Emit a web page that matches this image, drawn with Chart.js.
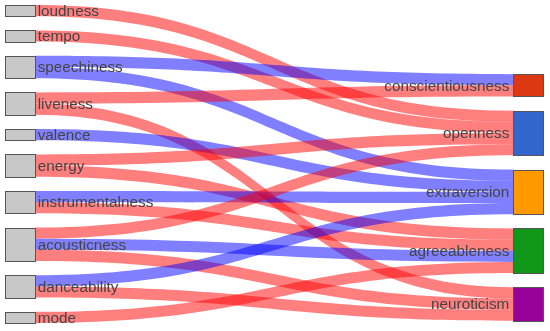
<!DOCTYPE html>
<html>
<head>
<meta charset="utf-8">
<script src="https://cdn.jsdelivr.net/npm/chart.js@4.4.1/dist/chart.umd.min.js"></script>
<style>
  html, body { margin: 0; padding: 0; background: #fff; }
  #wrap { width: 550px; height: 331px; }
</style>
</head>
<body>
<div id="wrap"><canvas id="sankey" width="550" height="331"></canvas></div>
<script>
// audio features (left column) and personality traits (right column)
const features = ["loudness", "tempo", "speechiness", "liveness", "valence",
  "energy", "instrumentalness", "acousticness", "danceability", "mode"];
const traits = ["conscientiousness", "openness", "extraversion", "agreeableness", "neuroticism"];
const traitColors = ["#dc3912", "#3366cc", "#ff9900", "#109618", "#990099"];

// one entry per flow
const linkFrom = ["loudness", "tempo", "speechiness", "speechiness", "liveness", "liveness",
  "valence", "energy", "energy", "instrumentalness", "instrumentalness",
  "acousticness", "acousticness", "acousticness", "danceability", "danceability", "mode"];
const linkTo = ["openness", "openness", "conscientiousness", "extraversion", "conscientiousness", "neuroticism",
  "extraversion", "openness", "agreeableness", "extraversion", "agreeableness",
  "openness", "agreeableness", "neuroticism", "extraversion", "neuroticism", "agreeableness"];
const linkValue = [1, 1, 1, 1, 1, 1, 1, 1, 1, 1, 1, 1, 1, 1, 1, 1, 1];
const linkSign = [1, 1, -1, -1, 1, 1, -1, 1, 1, -1, 1, 1, -1, 1, -1, 1, 1];

const GAP = 1.28;          // space between nodes, in flow units
const RIGHT_OFFSET = 6.2;  // where the trait column starts
const NODE_W = 0.0552;     // node width on the 0..1 x axis
const FONT = "15.3px 'Liberation Sans', Arial, sans-serif";

// Stacks a column of nodes, each as tall as the flows touching it.
const stack = (names, ends, offset) => {
  let y = offset;
  return names.map((name) => {
    const total = linkValue.reduce((s, v, i) => s + (ends[i] === name ? v : 0), 0);
    const node = { name, y0: y, y1: y + total };
    y += total + GAP;
    return node;
  });
};

const leftNodes = stack(features, linkFrom, 0);
const rightNodes = stack(traits, linkTo, RIGHT_OFFSET);
const yMax = leftNodes[leftNodes.length - 1].y1;

// place each flow inside its source (ordered by target) and target (ordered by source)
const links = linkValue.map((v, i) => ({
  v, sign: linkSign[i],
  s: features.indexOf(linkFrom[i]),
  t: traits.indexOf(linkTo[i]),
}));
leftNodes.forEach((n, k) => {
  let y = n.y0;
  links.filter((l) => l.s === k).sort((a, b) => a.t - b.t)
    .forEach((l) => { l.sy = y; y += l.v; });
});
rightNodes.forEach((n, k) => {
  let y = n.y0;
  links.filter((l) => l.t === k).sort((a, b) => a.s - b.s)
    .forEach((l) => { l.ty = y; y += l.v; });
});

const sankeyPlugin = {
  id: "sankey",
  afterDatasetsDraw(chart) {
    const { ctx, scales: { x, y } } = chart;
    const xl = x.getPixelForValue(NODE_W);
    const xr = x.getPixelForValue(1 - NODE_W);
    const xm = (xl + xr) / 2;

    ctx.save();
    // flows
    links.forEach((l) => {
      const y0a = y.getPixelForValue(l.sy), y0b = y.getPixelForValue(l.sy + l.v);
      const y1a = y.getPixelForValue(l.ty), y1b = y.getPixelForValue(l.ty + l.v);
      ctx.beginPath();
      ctx.moveTo(xl, y0a);
      ctx.bezierCurveTo(xm, y0a, xm, y1a, xr, y1a);
      ctx.lineTo(xr, y1b);
      ctx.bezierCurveTo(xm, y1b, xm, y0b, xl, y0b);
      ctx.closePath();
      ctx.fillStyle = l.sign > 0 ? "rgba(255,0,0,0.5)" : "rgba(0,0,255,0.5)";
      ctx.fill();
    });

    // nodes
    const drawNode = (n, xa, xb, fill) => {
      const top = Math.round(y.getPixelForValue(n.y0)) + 0.5;
      const bot = Math.round(y.getPixelForValue(n.y1)) + 0.5;
      const a = Math.round(x.getPixelForValue(xa)) + 0.5;
      const b = Math.round(x.getPixelForValue(xb)) + 0.5;
      ctx.fillStyle = fill;
      ctx.fillRect(a, top, b - a, bot - top);
      ctx.lineWidth = 1;
      ctx.strokeStyle = "#555";
      ctx.strokeRect(a, top, b - a, bot - top);
    };
    leftNodes.forEach((n) => drawNode(n, 0, NODE_W, "#c8c8c8"));
    rightNodes.forEach((n, k) => drawNode(n, 1 - NODE_W, 1, traitColors[k]));

    // labels
    ctx.font = FONT;
    ctx.fillStyle = "#444";
    ctx.textBaseline = "middle";
    ctx.textAlign = "left";
    leftNodes.forEach((n) => {
      ctx.fillText(n.name, xl + 3, y.getPixelForValue((n.y0 + n.y1) / 2) + 1);
    });
    ctx.textAlign = "right";
    rightNodes.forEach((n) => {
      ctx.fillText(n.name, xr - 4, y.getPixelForValue((n.y0 + n.y1) / 2) + 1);
    });
    ctx.restore();
  },
};

new Chart(document.getElementById("sankey"), {
  type: "scatter",
  data: { datasets: [] },
  options: {
    responsive: false,
    animation: false,
    layout: { padding: { left: 5, right: 7, top: 5, bottom: 8 } },
    scales: {
      x: { type: "linear", min: 0, max: 1, display: false },
      y: { type: "linear", min: 0, max: yMax, reverse: true, display: false },
    },
    plugins: { legend: { display: false }, tooltip: { enabled: false } },
  },
  plugins: [sankeyPlugin],
});
</script>
</body>
</html>
